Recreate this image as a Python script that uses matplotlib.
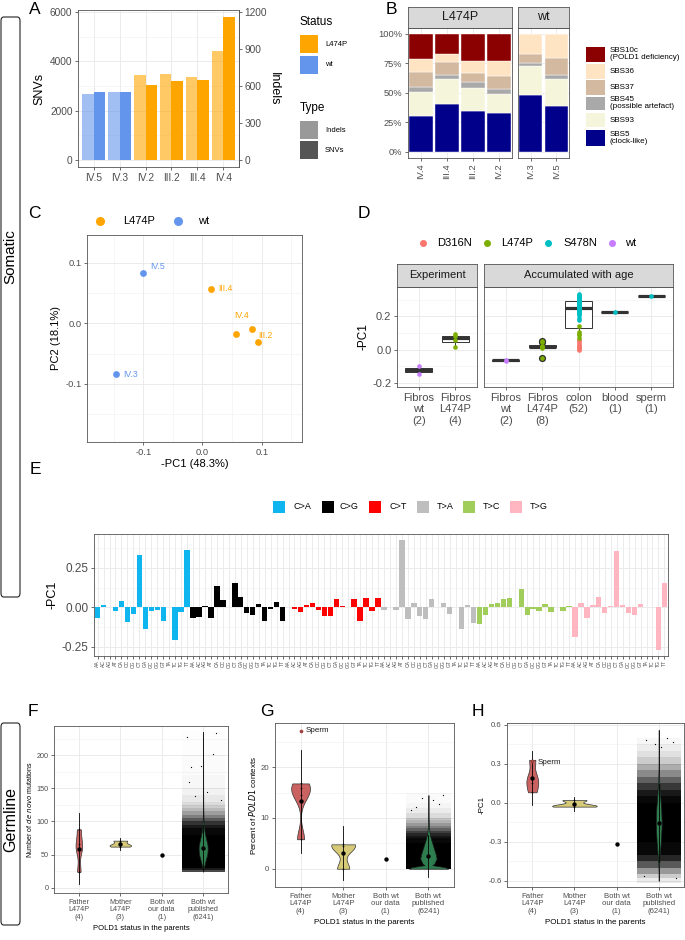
import numpy as np
import matplotlib
matplotlib.use('Agg')
import matplotlib.pyplot as plt
from matplotlib.patches import Rectangle, FancyBboxPatch
from matplotlib.lines import Line2D
from matplotlib.ticker import FixedLocator, PercentFormatter, FormatStrFormatter

plt.rcParams['font.family'] = ['Liberation Sans', 'DejaVu Sans']
plt.rcParams['axes.unicode_minus'] = False

W, H = 685, 940

# ---------------- data ----------------
# A: mutation counts per sample
a_samples = ['IV.5', 'IV.3', 'IV.2', 'III.2', 'III.4', 'IV.4']
a_status = ['wt', 'wt', 'L474P', 'L474P', 'L474P', 'L474P']
a_snvs = [2740, 2765, 3050, 3195, 3235, 5800]
a_indels = [537, 553, 693, 701, 674, 886]

# B: signature contributions (%)
b_samples = ['IV.4', 'III.4', 'III.2', 'IV.2', 'IV.3', 'IV.5']
b_group = ['L474P', 'L474P', 'L474P', 'L474P', 'wt', 'wt']
b_sbs5 = [30.6, 40.8, 34.6, 32.6, 48.4, 38.5]
b_sbs93 = [20.1, 21.0, 19.8, 16.1, 24.7, 23.3]
b_sbs45 = [4.0, 3.1, 4.5, 4.6, 2.5, 3.1]
b_sbs37 = [13.0, 11.0, 8.2, 11.0, 7.4, 14.4]
b_sbs36 = [11.3, 6.8, 9.7, 12.5, 17.0, 20.7]
b_sbs10c = [21.0, 17.3, 23.2, 23.2, 0.0, 0.0]
b_legend = ['SBS10c\n(POLD1 deficiency)', 'SBS36', 'SBS37',
            'SBS45\n(possible artefact)', 'SBS93', 'SBS5\n(clock-like)']

# C: PCA of samples
c_samples = ['IV.5', 'IV.3', 'III.4', 'IV.4', 'IV.2', 'III.2']
c_status = ['wt', 'wt', 'L474P', 'L474P', 'L474P', 'L474P']
c_pc1 = [-0.100, -0.146, 0.015, 0.083, 0.057, 0.094]
c_pc2 = [0.084, -0.084, 0.057, -0.009, -0.017, -0.031]

# D: -PC1 projections
d_exp_fibros_wt = [-0.101, -0.147]
d_exp_fibros_l474p = [0.095, 0.080, 0.058, 0.014]
d_age_fibros_wt = [-0.060, -0.070]
d_age_fibros_l474p = [-0.050, 0.012, 0.015, 0.017, 0.018, 0.020, 0.045, 0.054]
d_colon_d316n = [0.0, 0.005, 0.010, 0.015, 0.020, 0.030, 0.040, 0.050, 0.060]
d_colon_l474p = [0.070, 0.085, 0.095, 0.105, 0.140]
d_colon_s478n = [0.175, 0.190, 0.205, 0.215, 0.222, 0.228, 0.233, 0.238, 0.242, 0.245,
                 0.248, 0.250, 0.252, 0.255, 0.258, 0.260, 0.263, 0.266, 0.269, 0.272,
                 0.275, 0.278, 0.281, 0.285, 0.290, 0.292, 0.295, 0.298, 0.300, 0.303,
                 0.306, 0.309, 0.312, 0.315, 0.318, 0.322, 0.327, 0.333]
d_blood_s478n = [0.225]
d_sperm_s478n = [0.320]

# E: -PC1 loadings per trinucleotide context
e_types = ['C>A', 'C>G', 'C>T', 'T>A', 'T>C', 'T>G']
e_ca = [-0.070, 0.013, 0.002, -0.025, 0.040, -0.095, -0.040, 0.330,
        -0.137, -0.025, -0.020, -0.087, 0.002, -0.210, -0.027, 0.363]
e_cg = [-0.065, -0.063, 0.006, -0.070, 0.135, 0.046, 0.0, 0.152,
        0.068, -0.038, -0.046, 0.021, -0.084, -0.008, 0.032, -0.087]
e_ct = [0.002, -0.010, -0.030, 0.013, 0.027, -0.017, -0.057, -0.057,
        0.050, 0.006, 0.0, 0.053, -0.089, 0.061, -0.025, 0.059]
e_ta = [-0.020, 0.0, -0.017, 0.430, -0.076, 0.027, -0.055, -0.076,
        0.050, 0.0, 0.027, -0.044, 0.0, -0.135, 0.013, -0.100]
e_tc = [-0.108, -0.050, 0.019, 0.030, 0.055, 0.057, 0.002, 0.114,
        -0.050, -0.013, -0.021, 0.021, -0.027, 0.0, -0.021, 0.008]
e_tg = [-0.190, 0.027, -0.065, 0.013, 0.065, -0.038, 0.010, 0.354,
        0.015, -0.034, -0.048, 0.019, 0.0, 0.0, -0.274, 0.156]
bases = ['A', 'C', 'G', 'T']

# F/G/H: germline
g_cats = ['Father\nL474P\n(4)', 'Mother\nL474P\n(3)', 'Both wt\nour data\n(1)', 'Both wt\npublished\n(6241)']

f_father = [24, 58, 66, 88]
f_mother = [62, 65, 71]
f_ours = [50]
f_pub_mean, f_pub_sd = 60.6, 17.0
f_pub_y = [24, 30, 40, 50, 58, 65, 75, 85, 100, 120, 150, 235]
f_pub_w = [0.0, 0.15, 0.5, 0.9, 1.0, 0.95, 0.6, 0.3, 0.1, 0.03, 0.01, 0.0]
f_cloud_edges = [23, 26, 30, 40, 50, 60, 70, 80, 90, 95, 100, 105, 110, 115, 120, 125,
                 130, 140, 150, 170, 200, 236]
f_cloud_dens = [0.7, 0.9, 1, 1, 1, 1, 1, 0.97, 0.9, 0.8, 0.65, 0.5, 0.38, 0.28, 0.2,
                0.14, 0.09, 0.05, 0.03, 0.015, 0.008]
f_sparse_val = [228, 182, 184, 234, 201, 160, 145, 132, 138]
f_sparse_off = [-0.40, -0.30, -0.05, 0.30, 0.25, -0.35, 0.10, 0.42, -0.20]

g_father = [5.8, 14.6, 15.8, 16.8]
g_sperm = 27.2
g_mother = [0.0, 4.4, 4.8]
g_ours = [2.0]
g_pub_mean, g_pub_sd = 2.5, 2.1
g_pub_y = [0, 0.3, 0.7, 1.0, 2.0, 3.0, 4.0, 5.0, 6.0, 7.0, 8.0, 10.0, 14.5]
g_pub_w = [1.0, 0.85, 0.2, 0.3, 0.42, 0.36, 0.28, 0.2, 0.12, 0.06, 0.03, 0.01, 0.0]
g_cloud_edges = [0, 0.3, 1, 2, 3, 4, 5, 6, 6.5, 7, 7.5, 8, 8.5, 9, 9.5, 10, 11, 12, 13, 15]
g_cloud_dens = [1, 1, 1, 1, 1, 1, 0.97, 0.92, 0.85, 0.75, 0.62, 0.5, 0.4, 0.3, 0.22,
                0.14, 0.08, 0.04, 0.02]
g_sparse_val = [12.2, 14.5, 13.5, 11.5, 12.8, 14.0]
g_sparse_off = [-0.30, 0.35, 0.10, -0.40, 0.25, -0.15]

h_father = [0.08, 0.15, 0.20, 0.33]
h_sperm = 0.32
h_mother = [-0.03, -0.02, 0.02]
h_ours = [-0.32]
h_pub_mean, h_pub_sd = -0.154, 0.15
h_pub_y = [-0.6, -0.5, -0.4, -0.3, -0.2, -0.15, -0.05, 0.05, 0.15, 0.25, 0.35, 0.56]
h_pub_w = [0.0, 0.08, 0.35, 0.7, 0.95, 1.0, 0.85, 0.5, 0.2, 0.07, 0.02, 0.0]
h_cloud_edges = [-0.62, -0.58, -0.55, -0.5, -0.45, -0.4, -0.3, -0.2, -0.1, 0.0, 0.05,
                 0.1, 0.15, 0.2, 0.25, 0.3, 0.35, 0.4, 0.45, 0.5]
h_cloud_dens = [0.08, 0.2, 0.4, 0.65, 0.85, 0.97, 1, 1, 1, 0.97, 0.9, 0.78, 0.62, 0.46,
                0.32, 0.2, 0.12, 0.07, 0.03]
h_sparse_val = [0.48, 0.47, 0.45, -0.58, -0.56, 0.50, 0.43]
h_sparse_off = [-0.30, 0.35, -0.10, 0.40, -0.35, 0.20, 0.05]

# ---------------- styling ----------------
status_col = {'L474P': '#FFA500', 'wt': '#6495ED'}
geno_col = {'D316N': '#F8766D', 'L474P': '#7CAE00', 'S478N': '#00BFC4', 'wt': '#C77CFF'}
sig_col = ['#00008B', '#F5F5DC', '#A9A9A9', '#D2B9A0', '#FFE4C4', '#8B0000']  # bottom -> top
e_col = ['#0EB5EE', '#000000', '#FF0000', '#BEBEBE', '#A1CD5A', '#FFB6C1']
father_col, mother_col, pub_col = '#CB6262', '#D6CA78', '#2E7D4F'
TXT = '#4D4D4D'


def box(l, t, r, b):
    return [l / W, 1 - b / H, (r - l) / W, (b - t) / H]


def fx(x):
    return x / W


def fy(y):
    return 1 - y / H


def style(ax, size=7):
    ax.set_facecolor('white')
    for s in ax.spines.values():
        s.set_color('#555555')
        s.set_linewidth(0.6)
    ax.grid(True, which='major', color='#EBEBEB', lw=0.7)
    ax.grid(True, which='minor', color='#F0F0F0', lw=0.4)
    ax.set_axisbelow(True)
    ax.tick_params(which='major', length=2.5, width=0.5, color='#333333',
                   labelcolor=TXT, labelsize=size, pad=1.5)
    ax.tick_params(which='minor', length=0)


def strip(rect, label, size):
    s = fig.add_axes(rect)
    s.set_facecolor('#D9D9D9')
    for sp in s.spines.values():
        sp.set_color('#555555')
        sp.set_linewidth(0.6)
    s.set_xticks([])
    s.set_yticks([])
    s.text(0.5, 0.5, label, ha='center', va='center', fontsize=size, color='#1A1A1A',
           transform=s.transAxes)


def square(x0, y0, x1, y1, color, alpha=1.0):
    fig.patches.append(Rectangle((fx(x0), fy(y1)), fx(x1) - fx(x0), fy(y0) - fy(y1),
                                 transform=fig.transFigure, facecolor=color,
                                 edgecolor='none', alpha=alpha))


def dot(x, y, color, ms):
    fig.add_artist(Line2D([fx(x)], [fy(y)], marker='o', ms=ms, color=color, lw=0,
                          transform=fig.transFigure))


def label(x, y, s, size=12.5, **kw):
    fig.text(fx(x), fy(y), s, fontsize=size, ha='center', va='center', **kw)


fig = plt.figure(figsize=(W / 100, H / 100), dpi=100)

# ---------------- A ----------------
axA = fig.add_axes(box(78, 10, 239, 167))
style(axA, 7.3)
xa = np.arange(len(a_samples))
cols = [status_col[s] for s in a_status]
axA.bar(xa - 0.225, np.array(a_indels) * 5, width=0.45, color=cols, alpha=0.6, lw=0)
axA.bar(xa + 0.225, a_snvs, width=0.45, color=cols, lw=0)
axA.set_xlim(-0.6, 5.6)
axA.set_ylim(-290, 6090)
axA.set_xticks(xa)
axA.set_xticklabels(a_samples)
axA.yaxis.set_major_locator(FixedLocator([0, 2000, 4000, 6000]))
axA.yaxis.set_minor_locator(FixedLocator([1000, 3000, 5000]))
axA.set_ylabel('SNVs', fontsize=9, labelpad=3)
sec = axA.secondary_yaxis('right', functions=(lambda v: v / 5, lambda v: v * 5))
sec.set_yticks([0, 300, 600, 900, 1200])
sec.tick_params(length=2.5, width=0.5, color='#333333', labelcolor=TXT, labelsize=7.3, pad=1.5)
sec.spines['right'].set_color('#555555')
sec.spines['right'].set_linewidth(0.6)
sec.set_ylabel('Indels', rotation=270, fontsize=9, labelpad=9)

fig.text(fx(300), fy(22), 'Status', fontsize=8.5, va='center')
square(300, 35, 318, 53, status_col['L474P'])
square(300, 56, 318, 74, status_col['wt'])
fig.text(fx(325), fy(44), 'L474P', fontsize=5.5, va='center')
fig.text(fx(325), fy(65), 'wt', fontsize=5.5, va='center')
fig.text(fx(300), fy(108), 'Type', fontsize=8.5, va='center')
square(300, 121, 318, 139, '#999999')
square(300, 141, 318, 159, '#555555')
fig.text(fx(325), fy(130), 'Indels', fontsize=5.5, va='center')
fig.text(fx(325), fy(150), 'SNVs', fontsize=5.5, va='center')

# ---------------- B ----------------
b_stack = [b_sbs5, b_sbs93, b_sbs45, b_sbs37, b_sbs36, b_sbs10c]
for grp, rect, srect in [('L474P', box(408, 28, 512, 157.6), box(408, 7, 512, 28)),
                         ('wt', box(518, 28, 569, 157.6), box(518, 7, 569, 28))]:
    idx = [i for i, g in enumerate(b_group) if g == grp]
    ax = fig.add_axes(rect)
    style(ax, 6.7)
    xb = np.arange(len(idx))
    bottom = np.zeros(len(idx))
    for vals, col in zip(b_stack, sig_col):
        v = np.array([vals[i] for i in idx]) / 100
        ax.bar(xb, v, bottom=bottom, width=0.9, color=col, edgecolor='white', lw=0.3)
        bottom += v
    ax.set_xlim(-0.5, len(idx) - 0.5)
    ax.set_ylim(-0.05, 1.05)
    ax.set_xticks(xb)
    ax.set_xticklabels([b_samples[i] for i in idx], rotation=90)
    ax.yaxis.set_major_locator(FixedLocator([0, 0.25, 0.5, 0.75, 1.0]))
    ax.yaxis.set_minor_locator(FixedLocator([0.125, 0.375, 0.625, 0.875]))
    ax.yaxis.set_major_formatter(PercentFormatter(1.0, decimals=0))
    if grp == 'wt':
        ax.tick_params(axis='y', length=0, labelleft=False)
    strip(srect, grp, 9)

leg_rows = [(46.7, 62), (64.3, 78.7), (80, 95), (96.7, 110), (112.7, 127.3), (130, 145.7)]
for (t, b), name, col in zip(leg_rows, b_legend, sig_col[::-1]):
    square(586, t, 605, b, col)
    fig.text(fx(610), fy((t + b) / 2), name, fontsize=5.8, va='center', linespacing=1.05)

# ---------------- C ----------------
axC = fig.add_axes(box(87, 235, 302, 442))
style(axC, 6.7)
for x, y, s, st in zip(c_pc1, c_pc2, c_samples, c_status):
    axC.scatter(x, y, s=24, color=status_col[st], zorder=3, lw=0)
c_offsets = {'IV.5': (5, 4, 'left'), 'IV.3': (5, 0, 'left'), 'III.4': (5, 0, 'left'),
             'IV.4': (-7, 9.5, 'center'), 'III.2': (0, 5, 'left')}
for x, y, s, st in zip(c_pc1, c_pc2, c_samples, c_status):
    if s in c_offsets:
        dx, dy, ha = c_offsets[s]
        axC.annotate(s, (x, y), xytext=(dx, dy), textcoords='offset points', ha=ha,
                     va='center', fontsize=6.3, color=status_col[st])
axC.set_xlim(-0.195, 0.168)
axC.set_ylim(-0.196, 0.146)
axC.xaxis.set_major_locator(FixedLocator([-0.1, 0.0, 0.1]))
axC.yaxis.set_major_locator(FixedLocator([-0.1, 0.0, 0.1]))
axC.xaxis.set_minor_locator(FixedLocator([-0.15, -0.05, 0.05, 0.15]))
axC.yaxis.set_minor_locator(FixedLocator([-0.15, -0.05, 0.05]))
axC.xaxis.set_major_formatter(FormatStrFormatter('%.1f'))
axC.yaxis.set_major_formatter(FormatStrFormatter('%.1f'))
axC.set_xlabel('-PC1 (48.3%)', fontsize=8, labelpad=2)
axC.set_ylabel('PC2 (18.1%)', fontsize=8, labelpad=3)
dot(100, 220.7, status_col['L474P'], 5.5)
fig.text(fx(122.7), fy(220.7), 'L474P', fontsize=8, va='center')
dot(177.7, 220.7, status_col['wt'], 5.5)
fig.text(fx(198), fy(220.7), 'wt', fontsize=8, va='center')

# ---------------- D ----------------
d_panels = [
    (box(397, 287, 477, 387), box(397, 264, 477, 287), 'Experiment',
     [[(d_exp_fibros_wt, 'wt')], [(d_exp_fibros_l474p, 'L474P')]],
     ['Fibros\nwt\n(2)', 'Fibros\nL474P\n(4)']),
    (box(484, 287, 673, 387), box(484, 264, 673, 287), 'Accumulated with age',
     [[(d_age_fibros_wt, 'wt')], [(d_age_fibros_l474p, 'L474P')],
      [(d_colon_d316n, 'D316N'), (d_colon_l474p, 'L474P'), (d_colon_s478n, 'S478N')],
      [(d_blood_s478n, 'S478N')], [(d_sperm_s478n, 'S478N')]],
     ['Fibros\nwt\n(2)', 'Fibros\nL474P\n(8)', 'colon\n(52)', 'blood\n(1)', 'sperm\n(1)']),
]
for k, (rect, srect, title, groups, ticks) in enumerate(d_panels):
    ax = fig.add_axes(rect)
    style(ax, 8)
    for i, grp in enumerate(groups):
        allv = np.concatenate([np.array(v, float) for v, _ in grp])
        ax.boxplot([allv], positions=[i], widths=0.75, patch_artist=True, showcaps=False,
                   manage_ticks=False,
                   boxprops=dict(facecolor='white', edgecolor='#333333', lw=0.7),
                   medianprops=dict(color='#333333', lw=2.3),
                   whiskerprops=dict(color='#333333', lw=0.7),
                   flierprops=dict(marker='o', markerfacecolor='#333333',
                                   markeredgecolor='none', markersize=5.2))
        for v, g in grp:
            ax.scatter(np.full(len(v), i), v, s=11, color=geno_col[g], lw=0, zorder=4)
    ax.set_xlim(-0.6, len(groups) - 0.4)
    ax.set_ylim(-0.224, 0.376)
    ax.set_xticks(range(len(groups)))
    ax.set_xticklabels(ticks, linespacing=1.2)
    ax.yaxis.set_major_locator(FixedLocator([-0.2, 0.0, 0.2]))
    ax.yaxis.set_minor_locator(FixedLocator([-0.1, 0.1, 0.3]))
    ax.yaxis.set_major_formatter(FormatStrFormatter('%.1f'))
    if k == 0:
        ax.set_ylabel('-PC1', fontsize=8.5, labelpad=2)
    else:
        ax.tick_params(axis='y', length=0, labelleft=False)
    strip(srect, title, 8)

for xd, xt, name in [(423, 437, 'D316N'), (487, 501, 'L474P'), (548, 563, 'S478N'), (612, 625, 'wt')]:
    dot(xd, 243.3, geno_col[name], 4)
    fig.text(fx(xt), fy(243.3), name, fontsize=8, va='center')

# ---------------- E ----------------
axE = fig.add_axes(box(94, 534, 668, 656))
style(axE, 8.5)
e_vals = [e_ca, e_cg, e_ct, e_ta, e_tc, e_tg]
e_labels = []
pos = 0
for vals, col, t in zip(e_vals, e_col, e_types):
    xe = np.arange(pos, pos + len(vals))
    axE.bar(xe, vals, width=0.9, color=col, lw=0, zorder=2)
    e_labels += [a + b for a in bases for b in bases]
    pos += len(vals)
axE.set_xlim(-0.6, pos - 0.4)
axE.set_ylim(-0.309, 0.465)
axE.set_xticks(range(pos))
axE.set_xticklabels(e_labels, rotation=90, fontsize=3.6)
axE.tick_params(axis='x', pad=1, length=2)
axE.yaxis.set_major_locator(FixedLocator([-0.25, 0.0, 0.25]))
axE.yaxis.set_minor_locator(FixedLocator([-0.125, 0.125, 0.375]))
axE.yaxis.set_major_formatter(FormatStrFormatter('%.2f'))
axE.set_ylabel('-PC1', fontsize=9, labelpad=2)
e_leg = [(273, 293), (322, 340), (369, 389), (417, 437), (463, 483), (510, 530)]
for (xs, xt), col, t in zip(e_leg, e_col, e_types):
    square(xs, 500.7, xs + 12, 512.7, col)
    fig.text(fx(xt), fy(506.7), t, fontsize=6.5, va='center')


# ---------------- F / G / H ----------------
def nrd0(x):
    x = np.asarray(x, float)
    sd = x.std(ddof=1)
    q75, q25 = np.percentile(x, [75, 25])
    lo = min(sd, (q75 - q25) / 1.34)
    if lo <= 0:
        lo = sd
    return 0.9 * lo * len(x) ** (-0.2)


def kde_violin(ax, data, xpos, hw, color):
    d = np.asarray(data, float)
    bw = nrd0(d)
    ys = np.linspace(d.min(), d.max(), 200)
    dens = np.exp(-0.5 * ((ys[:, None] - d[None, :]) / bw) ** 2).sum(1)
    dens = dens / dens.max() * hw
    ax.fill_betweenx(ys, xpos - dens, xpos + dens, facecolor=color, edgecolor='#333333',
                     lw=0.5, zorder=3)


def summary(ax, data, xpos):
    d = np.asarray(data, float)
    m = d.mean()
    if len(d) > 1:
        s = d.std(ddof=1)
        ax.plot([xpos, xpos], [m - 2 * s, m + 2 * s], color='black', lw=0.6, zorder=4)
        ax.scatter(np.full(len(d), xpos), d, s=1.5, color='black', zorder=5, lw=0)
    ax.scatter([xpos], [m], s=10, color='black', zorder=6, lw=0)


def germline(rect, father, mother, ours, pub_mean, pub_sd, pub_y, pub_w, cedges, cdens,
             sp_val, sp_off, hws, ylim, major, minor, fmt, ylab, tick_size, lab_size):
    ax = fig.add_axes(rect)
    style(ax, tick_size)
    # jittered cloud of published trios, drawn as a density band
    for i in range(len(cdens)):
        ax.fill_between([2.48, 3.52], cedges[i], cedges[i + 1], color='black',
                        alpha=cdens[i], lw=0, antialiased=False, zorder=1)
    ax.scatter(np.array(sp_off) + 3, sp_val, s=0.8, color='black', lw=0, zorder=1)
    kde_violin(ax, father, 0, hws[0], father_col)
    kde_violin(ax, mother, 1, hws[1], mother_col)
    pw = np.array(pub_w) * hws[2]
    ax.fill_betweenx(pub_y, 3 - pw, 3 + pw, facecolor=pub_col, edgecolor='#1A1A1A',
                     lw=0.5, zorder=3)
    summary(ax, father, 0)
    summary(ax, mother, 1)
    summary(ax, ours, 2)
    ax.plot([3, 3], [pub_mean - 2 * pub_sd, pub_mean + 2 * pub_sd], color='black', lw=0.6, zorder=4)
    ax.scatter([3], [pub_mean], s=10, color='black', zorder=6, lw=0)
    ax.set_xlim(-0.6, 3.6)
    ax.set_ylim(*ylim)
    ax.set_xticks(range(4))
    ax.set_xticklabels(g_cats, linespacing=1.15)
    ax.yaxis.set_major_locator(FixedLocator(major))
    ax.yaxis.set_minor_locator(FixedLocator(minor))
    ax.yaxis.set_major_formatter(FormatStrFormatter(fmt))
    ax.set_xlabel('POLD1 status in the parents', fontsize=lab_size, labelpad=3)
    ax.set_ylabel(ylab, fontsize=lab_size, labelpad=2)
    return ax


axF = germline(box(54, 726, 228, 893), f_father, f_mother, f_ours, f_pub_mean, f_pub_sd,
               f_pub_y, f_pub_w, f_cloud_edges, f_cloud_dens, f_sparse_val, f_sparse_off,
               (0.08, 0.26, 0.11), (-8, 244), [0, 50, 100, 150, 200],
               [25, 75, 125, 175, 225], '%d', r'Number of $\it{de\ novo}$ mutations', 5.2, 5.5)
axF.yaxis.label.set_size(5.0)

axG = germline(box(275, 723, 454, 887), g_father, g_mother, g_ours, g_pub_mean, g_pub_sd,
               g_pub_y, g_pub_w, g_cloud_edges, g_cloud_dens, g_sparse_val, g_sparse_off,
               (0.22, 0.28, 0.46), (-3.6, 28.7), [0, 10, 20], [5, 15, 25], '%d',
               r'Percent of $\it{POLD1}$ contexts', 5.6, 5.8)
axG.scatter([0], [g_sperm], s=7, color='#A0413F', lw=0, zorder=6)
axG.text(0.12, g_sperm, 'Sperm', fontsize=5.8, va='center', ha='left', color='#1A1A1A')

axH = germline(box(507, 723, 684, 887), h_father, h_mother, h_ours, h_pub_mean, h_pub_sd,
               h_pub_y, h_pub_w, h_cloud_edges, h_cloud_dens, h_sparse_val, h_sparse_off,
               (0.14, 0.53, 0.07), (-0.648, 0.613), [-0.6, -0.3, 0.0, 0.3, 0.6],
               [-0.45, -0.15, 0.15, 0.45], '%.1f', '-PC1', 5.6, 5.8)
axH.scatter([0], [h_sperm], s=7, color='#A0413F', lw=0, zorder=6)
axH.text(0.12, 0.313, 'Sperm', fontsize=5.8, va='center', ha='left', color='#1A1A1A')

# ---------------- panel letters & side boxes ----------------
for s, x, y in [('A', 35, 10), ('B', 391, 10), ('C', 34, 213), ('D', 364, 214),
                ('E', 35, 470), ('F', 33, 711), ('G', 267, 711), ('H', 478, 711)]:
    label(x, y, s)

for t, b, name in [(17, 597, 'Somatic'), (723, 925, 'Germline')]:
    fig.patches.append(FancyBboxPatch((fx(1), fy(b)), fx(20) - fx(1), fy(t) - fy(b),
                                      boxstyle='round,pad=0,rounding_size=0.004',
                                      transform=fig.transFigure, facecolor='white',
                                      edgecolor='#222222', lw=0.8))
label(10.5, 257, 'Somatic', size=11, rotation=90)
label(10.5, 819, 'Germline', size=11.5, rotation=90)

fig.savefig('out.png', dpi=100)
